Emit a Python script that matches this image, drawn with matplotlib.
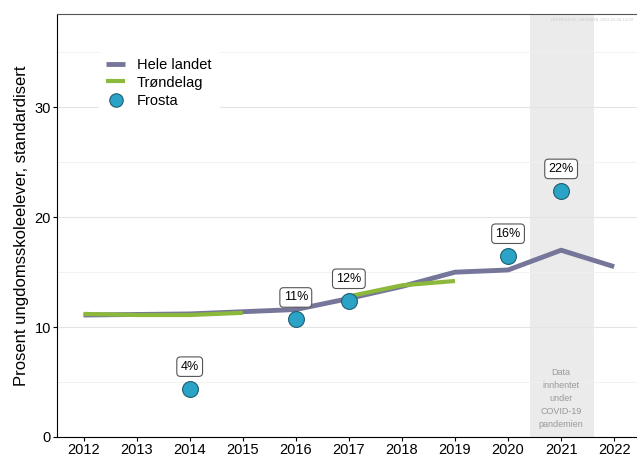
import matplotlib.pyplot as plt
from matplotlib.ticker import MultipleLocator

plt.rcParams["font.family"] = ["Liberation Sans", "DejaVu Sans"]

years = [2012, 2013, 2014, 2015, 2016, 2017, 2018, 2019, 2020, 2021, 2022]
hele_landet = [11.1, 11.15, 11.2, 11.4, 11.6, 12.6, 13.7, 15.0, 15.2, 17.0, 15.5]
trondelag = [11.2, 11.1, 11.1, 11.3, None, 12.8, 13.8, 14.2, None, None, None]
frosta_years = [2014, 2016, 2017, 2020, 2021]
frosta = [4.4, 10.7, 12.4, 16.5, 22.4]
frosta_labels = ["4%", "11%", "12%", "16%", "22%"]

fig = plt.figure(figsize=(6.37, 4.59), dpi=100)
ax = fig.add_axes([0.0895, 0.048, 0.9105, 0.9215])

ax.axvspan(2020.42, 2021.62, color="#ebebeb", zorder=0, lw=0)
ax.text(2021, 3.5, "Data\ninnhentet\nunder\nCOVID-19\npandemien", ha="center", va="center",
        fontsize=6.5, color="#999999", linespacing=1.6)

ax.plot(years, hele_landet, color="#76769a", lw=3.5, label="Hele landet", zorder=3,
        solid_capstyle="butt")
ty = [v if v is not None else float("nan") for v in trondelag]
ax.plot(years, ty, color="#8cb83b", lw=3, label="Trøndelag", zorder=4, solid_capstyle="butt")
ax.scatter(frosta_years, frosta, s=130, color="#2aa3c6", edgecolor="#1f5f70", lw=0.8,
           label="Frosta", zorder=5)
for x, y, t in zip(frosta_years, frosta, frosta_labels):
    ax.text(x, y + 2.0, t, ha="center", va="center", fontsize=9, zorder=6,
            bbox=dict(boxstyle="round,pad=0.3", fc="white", ec="#555555", lw=0.8))

ax.set_xlim(2011.5, 2022.43)
ax.set_ylim(0, 38.5)
ax.set_xticks(years)
ax.yaxis.set_major_locator(MultipleLocator(10))
ax.yaxis.set_minor_locator(MultipleLocator(5))
ax.grid(which="major", axis="y", color="#e4e4e4", lw=0.8)
ax.grid(which="minor", axis="y", color="#f0f0f0", lw=0.6)
ax.set_axisbelow(True)
ax.tick_params(axis="both", labelsize=10.5, length=3, pad=1.5)
ax.tick_params(which="minor", length=0)
ax.set_ylabel("Prosent ungdomsskoleelever, standardisert", fontsize=12, labelpad=4)
ax.spines["right"].set_visible(False)
ax.spines["top"].set_color("#555555")

leg = ax.legend(loc="upper left", bbox_to_anchor=(0.06, 0.93), frameon=True, fontsize=10.5,
                handlelength=1.3, handleheight=0.9, labelspacing=0.25, borderpad=0.5,
                markerscale=0.85)
leg.get_frame().set_edgecolor("white")
leg.get_frame().set_alpha(1)

fig.text(0.995, 0.955, "DEPRESJON_UNGDATA_2023-01-04-14-09", ha="right", fontsize=3,
         color="#cccccc")

fig.savefig("out.png", dpi=100)
